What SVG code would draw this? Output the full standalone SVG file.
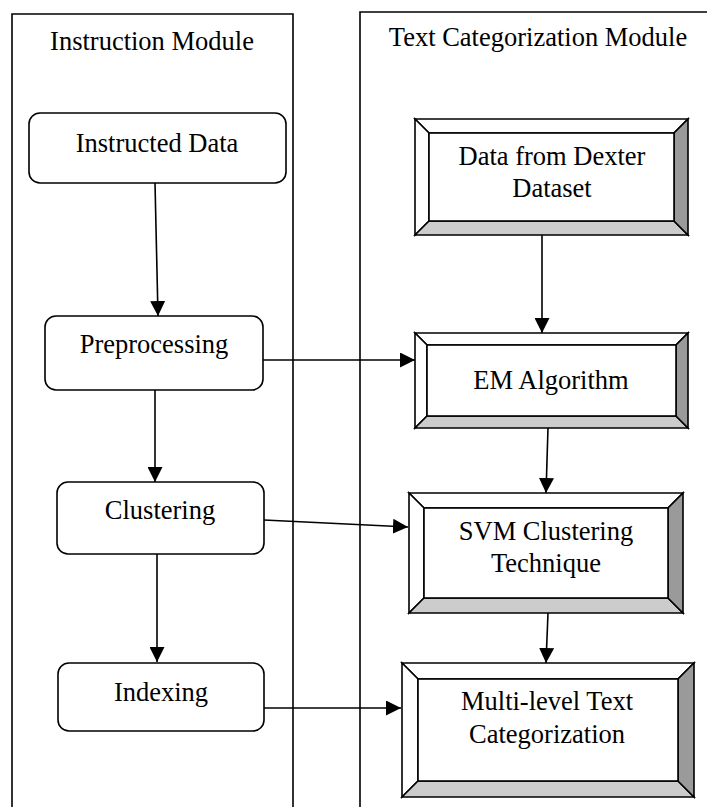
<svg xmlns="http://www.w3.org/2000/svg" width="707" height="807" viewBox="0 0 707 807">
  <style>
    .lane { fill: none; stroke: #000; stroke-width: 1.6; }
    .step { fill: #fff; stroke: #000; stroke-width: 1.6; }
    .bv { stroke: #000; stroke-width: 1.6; stroke-linejoin: miter; }
    .hi { fill: #fff; }
    .lo { fill: #cccccc; }
    .dk { fill: #9a9a9a; }
    .face { fill: #fff; stroke: #000; stroke-width: 1.6; }
    .lbl { font-family: "Liberation Serif", "Times New Roman", serif; font-size: 26.5px; fill: #000; text-anchor: middle; }
    .edge { fill: none; stroke: #000; stroke-width: 1.6; }
  </style>
  <defs>
    <marker id="arrow" markerUnits="userSpaceOnUse" markerWidth="15" markerHeight="15" viewBox="0 0 15 15" refX="15" refY="7.5" orient="auto">
      <path d="M0,0 L15,7.5 L0,15 Z" fill="#000"/>
    </marker>
  </defs>

  <rect width="707" height="807" fill="#fff"/>

  <!-- module lanes (open at the bottom) -->
  <g id="lane-instruction">
    <path class="lane" d="M12,807 V14 H293 V807"/>
    <text class="lbl" x="152" y="50">Instruction Module</text>
  </g>
  <g id="lane-categorization">
    <path class="lane" d="M360,807 V12 H708"/>
    <text class="lbl" x="538" y="46">Text Categorization Module</text>
  </g>

  <!-- instruction module steps -->
  <g id="instructed-data">
    <rect class="step" x="29" y="113" width="257" height="70" rx="11"/>
    <text class="lbl" x="157" y="152">Instructed Data</text>
  </g>
  <g id="preprocessing">
    <rect class="step" x="45" y="316" width="218" height="74" rx="11"/>
    <text class="lbl" x="154" y="353">Preprocessing</text>
  </g>
  <g id="clustering">
    <rect class="step" x="57" y="482" width="207" height="72" rx="11"/>
    <text class="lbl" x="160" y="519">Clustering</text>
  </g>
  <g id="indexing">
    <rect class="step" x="58" y="663" width="206" height="68" rx="11"/>
    <text class="lbl" x="161" y="701">Indexing</text>
  </g>

  <!-- categorization module steps (bevelled frames) -->
  <g id="dexter-data">
    <polygon class="bv hi" points="415,119 688,119 674,133 429,133"/>
    <polygon class="bv hi" points="415,119 429,133 429,221 415,235"/>
    <polygon class="bv lo" points="415,235 429,221 674,221 688,235"/>
    <polygon class="bv dk" points="688,119 688,235 674,221 674,133"/>
    <rect class="face" x="429" y="133" width="245" height="88"/>
    <text class="lbl" x="552" y="165">Data from Dexter</text>
    <text class="lbl" x="552" y="197">Dataset</text>
  </g>
  <g id="em-algorithm">
    <polygon class="bv hi" points="415,333 688,333 676,345 427,345"/>
    <polygon class="bv hi" points="415,333 427,345 427,416 415,428"/>
    <polygon class="bv lo" points="415,428 427,416 676,416 688,428"/>
    <polygon class="bv dk" points="688,333 688,428 676,416 676,345"/>
    <rect class="face" x="427" y="345" width="249" height="71"/>
    <text class="lbl" x="551" y="389">EM Algorithm</text>
  </g>
  <g id="svm-clustering">
    <polygon class="bv hi" points="409,493 683,493 668,508 424,508"/>
    <polygon class="bv hi" points="409,493 424,508 424,598 409,613"/>
    <polygon class="bv lo" points="409,613 424,598 668,598 683,613"/>
    <polygon class="bv dk" points="683,493 683,613 668,598 668,508"/>
    <rect class="face" x="424" y="508" width="244" height="90"/>
    <text class="lbl" x="546" y="540">SVM Clustering</text>
    <text class="lbl" x="546" y="572">Technique</text>
  </g>
  <g id="multilevel-categorization">
    <polygon class="bv hi" points="402,663 694,663 678,679 418,679"/>
    <polygon class="bv hi" points="402,663 418,679 418,781 402,797"/>
    <polygon class="bv lo" points="402,797 418,781 678,781 694,797"/>
    <polygon class="bv dk" points="694,663 694,797 678,781 678,679"/>
    <rect class="face" x="418" y="679" width="260" height="102"/>
    <text class="lbl" x="547" y="710">Multi-level Text</text>
    <text class="lbl" x="547" y="743">Categorization</text>
  </g>

  <!-- connectors -->
  <g id="connectors">
    <line class="edge" x1="155" y1="183" x2="158" y2="316" marker-end="url(#arrow)"/>
    <line class="edge" x1="155" y1="390" x2="155" y2="482" marker-end="url(#arrow)"/>
    <line class="edge" x1="157" y1="554" x2="157" y2="662" marker-end="url(#arrow)"/>
    <line class="edge" x1="263" y1="360" x2="415" y2="360" marker-end="url(#arrow)"/>
    <line class="edge" x1="264" y1="520" x2="408" y2="527" marker-end="url(#arrow)"/>
    <line class="edge" x1="264" y1="708" x2="401" y2="708" marker-end="url(#arrow)"/>
    <line class="edge" x1="542" y1="235" x2="542" y2="333" marker-end="url(#arrow)"/>
    <line class="edge" x1="548" y1="428" x2="546" y2="493" marker-end="url(#arrow)"/>
    <line class="edge" x1="548" y1="613" x2="546" y2="663" marker-end="url(#arrow)"/>
  </g>
</svg>
